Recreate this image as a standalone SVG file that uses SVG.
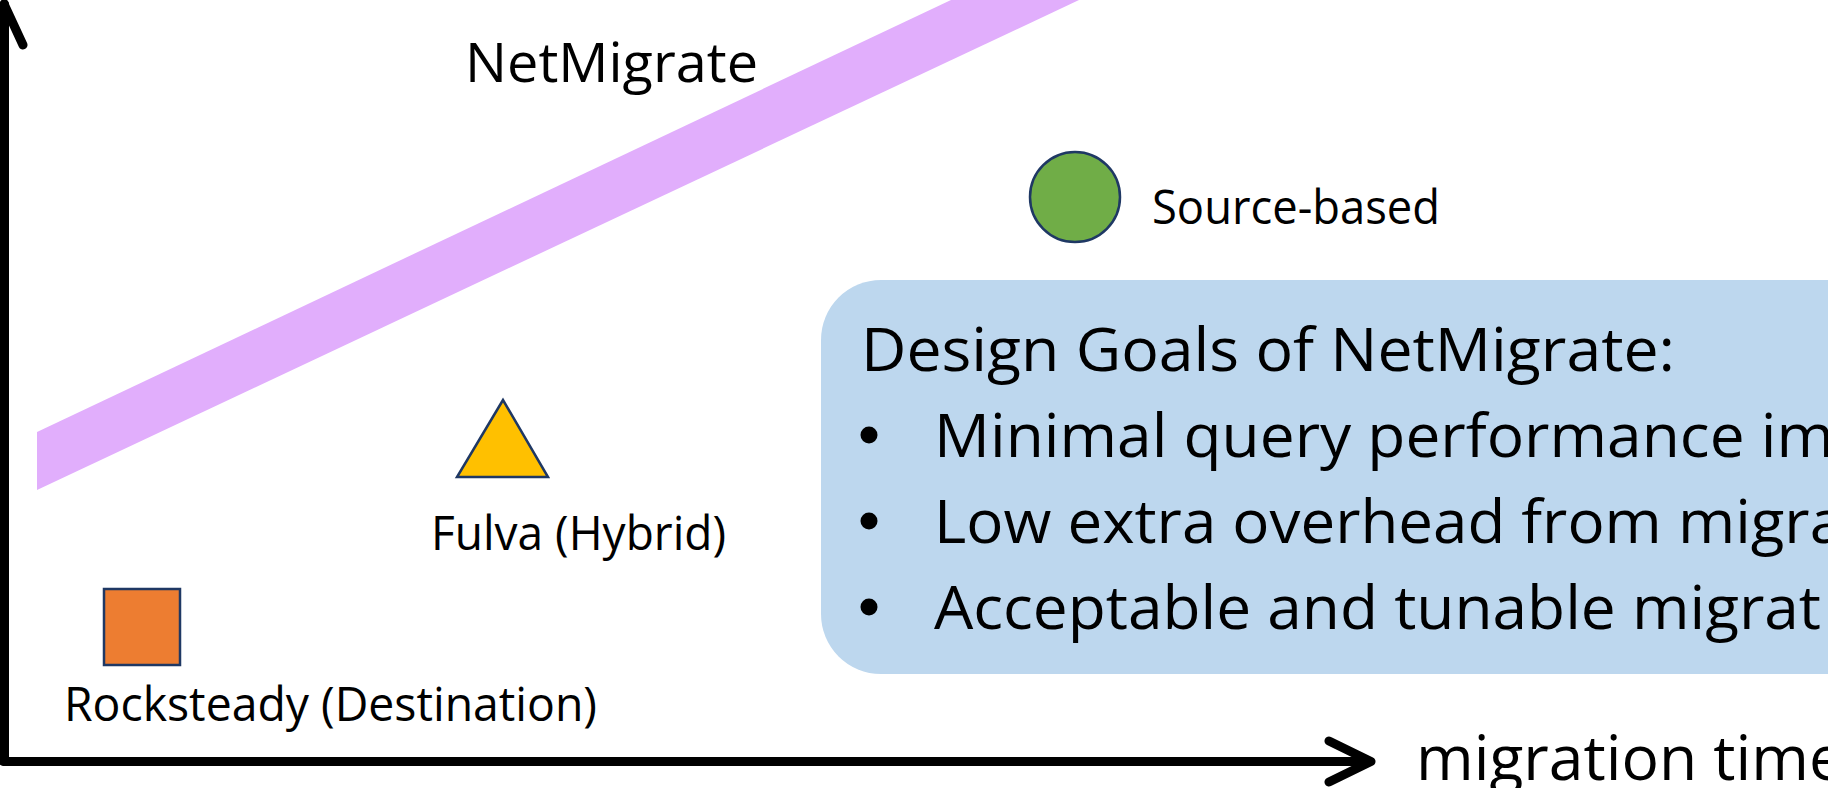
<svg xmlns="http://www.w3.org/2000/svg" width="1828" height="788" viewBox="0 0 1828 788">
  <style>
    .t { font-family: "Open Sans", "Noto Sans", "Liberation Sans", sans-serif; fill: #000; }
    .lbl { font-size: 48px; }
    .big { font-size: 61px; }
    .axis { fill: none; stroke: #000; stroke-width: 9; stroke-linecap: round; stroke-linejoin: round; }
    .shape { stroke: #1F3864; stroke-width: 2.5; }
  </style>
  <rect width="1828" height="788" fill="#ffffff"/>

  <g id="netmigrate-band">
    <polygon points="37,432 951,0 1079,0 37,490" fill="#E1AEFC"/>
    <text class="t" x="465" y="82" font-size="55" textLength="293" lengthAdjust="spacingAndGlyphs">NetMigrate</text>
  </g>

  <g id="source-based">
    <circle class="shape" cx="1075" cy="197" r="45" fill="#70AD47"/>
    <text class="t lbl" x="1152" y="224" textLength="288" lengthAdjust="spacingAndGlyphs">Source-based</text>
  </g>

  <g id="fulva">
    <polygon class="shape" points="503,400 457,477 548,477" fill="#FFC000"/>
    <text class="t lbl" x="431" y="550" textLength="295" lengthAdjust="spacingAndGlyphs">Fulva (Hybrid)</text>
  </g>

  <g id="rocksteady">
    <rect class="shape" x="104" y="589" width="76" height="76" fill="#ED7D31"/>
    <text class="t lbl" x="64" y="721" textLength="533" lengthAdjust="spacingAndGlyphs">Rocksteady (Destination)</text>
  </g>

  <g id="design-goals">
    <rect x="821" y="280" width="1100" height="394" rx="60" ry="60" fill="#BDD7EE"/>
    <text class="t big" x="861" y="371" textLength="814" lengthAdjust="spacingAndGlyphs">Design Goals of NetMigrate:</text>
    <circle cx="869" cy="435" r="8.5" fill="#000"/>
    <text class="t big" x="934" y="457" textLength="900" lengthAdjust="spacingAndGlyphs">Minimal query performance im</text>
    <circle cx="869" cy="521" r="8.5" fill="#000"/>
    <text class="t big" x="934" y="543" textLength="910" lengthAdjust="spacingAndGlyphs">Low extra overhead from migra</text>
    <circle cx="869" cy="607" r="8.5" fill="#000"/>
    <text class="t big" x="934" y="629" textLength="887" lengthAdjust="spacingAndGlyphs">Acceptable and tunable migrat</text>
  </g>

  <g id="connectors">
    <path class="axis" d="M4.5,761 L4.5,4"/>
    <path class="axis" d="M-15,45 L4,4 L23,45"/>
    <path class="axis" d="M3,761.5 L1368,761.5"/>
    <path class="axis" d="M1329,741 L1371,761.5 L1329,782"/>
  </g>

  <g id="x-label">
    <text class="t" x="1416" y="780" font-size="63" textLength="428" lengthAdjust="spacingAndGlyphs">migration time</text>
  </g>
</svg>
